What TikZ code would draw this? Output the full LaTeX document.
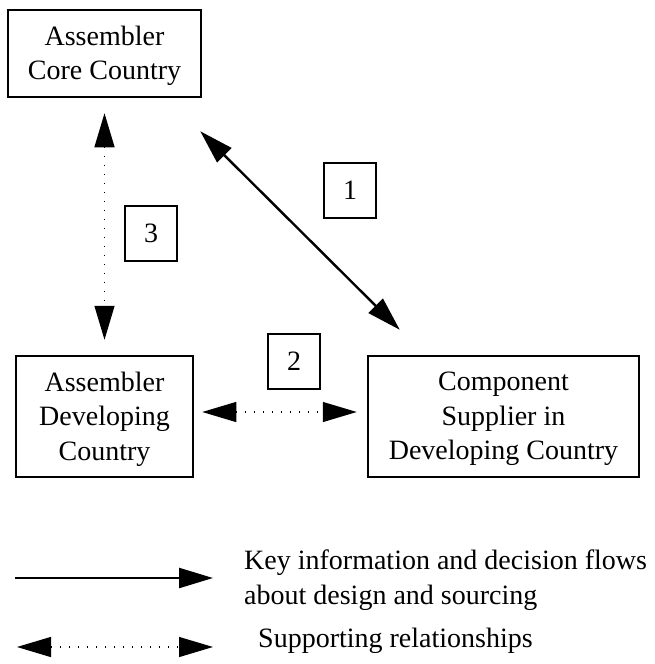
\documentclass[tikz,border=0pt]{standalone}
\usepackage{fontspec}
\setmainfont{Liberation Serif}
\usetikzlibrary{arrows.meta}
\begin{document}
\begin{tikzpicture}[x=1pt,y=-1pt,
  >={Triangle[length=34pt,width=20pt]},
  every node/.style={font=\fontsize{28}{34.5}\selectfont},
  box/.style={draw, line width=2.5pt, inner sep=0pt},
  boxtext/.style={align=center, inner sep=0pt, yshift=-2.5pt},
  numbox/.style={draw, line width=2.5pt, inner sep=0pt,
    minimum width=52pt, minimum height=55pt},
  keytext/.style={anchor=base west, align=left, inner sep=0pt},
  flow/.style={line width=2.4pt},
  support/.style={line width=1.3pt, dash pattern=on 1.3pt off 7.7pt}
]
\useasboundingbox (0,0) rectangle (654,664);

% actors
\node[box, minimum width=193pt, minimum height=87pt,
  label={[boxtext]center:{Assembler\\Core Country}}] (core) at (104.5,53.5) {};
\node[box, minimum width=177pt, minimum height=121pt,
  label={[boxtext]center:{Assembler\\Developing\\Country}}] (dev) at (104.5,416.5) {};
\node[box, minimum width=271pt, minimum height=121pt,
  label={[boxtext]center:{Component\\Supplier in\\Developing Country}}] (sup) at (503.5,416.5) {};

% relationship numbers
\node[numbox] (n1) at (350,190.5) {1};
\node[numbox] (n3) at (151,233.5) {3};
\node[numbox] (n2) at (294,361.5) {2};

% relationships
\draw[flow, <->]
  ([xshift=-2pt,yshift=-33pt]core.south east) -- ([xshift=33pt,yshift=25pt]sup.north west);
\draw[support, <->, shorten <=15pt, shorten >=15pt]
  (core.south) -- (dev.north);
\draw[support, <->, shorten <=8pt, shorten >=10pt]
  ([yshift=4.5pt]dev.east) -- ([yshift=4.5pt]sup.west);

% key
\coordinate (k1s) at (15,578);
\coordinate (k1e) at (213,578);
\coordinate (k2s) at (17,647);
\coordinate (k2e) at (213,647);
\draw[flow, ->] (k1s) -- (k1e);
\draw[support, <->] (k2s) -- (k2e);
\node[keytext] (keyflow) at (244,604)
  {Key information and decision flows\\about design and sourcing};
\node[keytext] (keysupport) at (258,647) {Supporting relationships};
\end{tikzpicture}
\end{document}
